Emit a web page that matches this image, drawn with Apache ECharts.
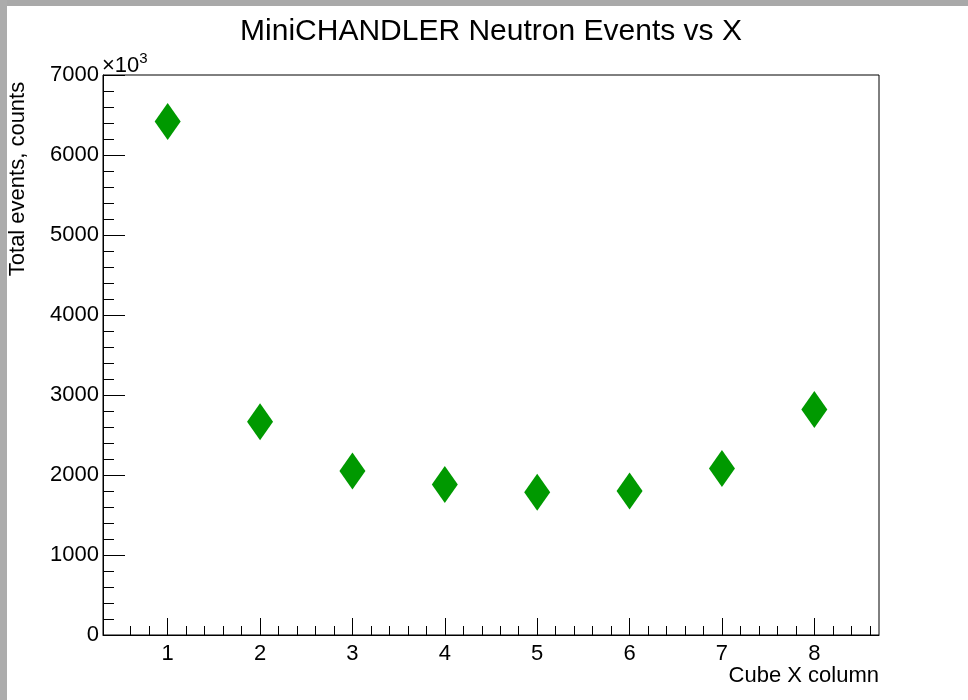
<!DOCTYPE html>
<html>
<head>
<meta charset="utf-8">
<title>MiniCHANDLER Neutron Events vs X</title>
<script src="https://cdn.jsdelivr.net/npm/echarts@6/dist/echarts.min.js"></script>
<style>
  html, body { margin: 0; padding: 0; background: #fff; }
  #chart { width: 968px; height: 700px; }
</style>
</head>
<body>
<div id="chart"></div>
<script>
// Cube X column index and total neutron events (in units of 10^3 counts)
const columns = [1, 2, 3, 4, 5, 6, 7, 8];
const eventsThousands = [6420, 2665, 2050, 1880, 1785, 1800, 2080, 2820];

// Axis tick labels
const xTickLabels = ['1', '2', '3', '4', '5', '6', '7', '8'];
const yTickLabels = ['0', '1000', '2000', '3000', '4000', '5000', '6000', '7000'];

const chartTitle = 'MiniCHANDLER Neutron Events vs X';
const xTitle = 'Cube X column';
const yTitle = 'Total events, counts';

const FONT = '"Liberation Sans", Arial, Helvetica, sans-serif';
const X_MIN = 0.3, X_MAX = 8.7;

const majorX = xTickLabels.map(Number);
// minor ticks every 0.2 between the integer columns
const minorX = [];
for (let k = Math.round(X_MIN * 5) + 1; k < Math.round(X_MAX * 5); k++) {
  if (k % 5 !== 0) minorX.push(+(k / 5).toFixed(2));
}

const chart = echarts.init(document.getElementById('chart'), null, { renderer: 'canvas' });

const gridBox = { left: 103, right: 89, top: 75, bottom: 65 };
const plotLeft = gridBox.left;
const plotRight = 968 - gridBox.right;
const plotTop = gridBox.top;
const plotBottom = 700 - gridBox.bottom;

chart.setOption({
  backgroundColor: '#ffffff',
  animation: false,
  grid: {
    left: gridBox.left, right: gridBox.right, top: gridBox.top, bottom: gridBox.bottom,
    show: true, borderColor: '#000', borderWidth: 1, backgroundColor: 'transparent'
  },
  xAxis: [
    {
      type: 'value', min: X_MIN, max: X_MAX,
      axisLine: { show: true, onZero: false, lineStyle: { color: '#000', width: 1 } },
      axisTick: { show: true, inside: true, length: 17, customValues: majorX, lineStyle: { color: '#000', width: 1 } },
      axisLabel: {
        show: true, customValues: majorX, margin: 8,
        color: '#000', fontFamily: FONT, fontSize: 22,
        formatter: v => xTickLabels[majorX.indexOf(Math.round(v))] || ''
      },
      splitLine: { show: false }
    },
    {
      type: 'value', min: X_MIN, max: X_MAX, position: 'bottom', offset: 0,
      axisLine: { show: false },
      axisTick: { show: true, inside: true, length: 9, customValues: minorX, lineStyle: { color: '#000', width: 1 } },
      axisLabel: { show: false },
      splitLine: { show: false }
    }
  ],
  yAxis: {
    type: 'value', min: 0, max: 7000, interval: 1000,
    axisLine: { show: true, onZero: false, lineStyle: { color: '#000', width: 1 } },
    axisTick: { show: true, inside: true, length: 22, lineStyle: { color: '#000', width: 1 } },
    minorTick: { show: true, splitNumber: 5, length: 11, lineStyle: { color: '#000', width: 1 } },
    axisLabel: {
      show: true, margin: 4, color: '#000', fontFamily: FONT, fontSize: 22,
      formatter: v => yTickLabels[Math.round(v / 1000)]
    },
    splitLine: { show: false }
  },
  series: [{
    type: 'scatter',
    xAxisIndex: 0,
    symbol: 'diamond',
    symbolSize: [26, 37],
    itemStyle: { color: '#009900', opacity: 1 },
    data: columns.map((c, i) => [c, eventsThousands[i]])
  }],
  graphic: [
    // grey window frame along the top and left edges
    { type: 'rect', shape: { x: 0, y: 0, width: 968, height: 6 }, style: { fill: '#a9a9a9' }, silent: true },
    { type: 'rect', shape: { x: 0, y: 0, width: 7, height: 700 }, style: { fill: '#acacac' }, silent: true },
    {
      type: 'text', x: (plotLeft + plotRight) / 2, y: 32,
      style: { text: chartTitle, fill: '#000', font: '30px ' + FONT,
               align: 'center', verticalAlign: 'middle', textAlign: 'center', textVerticalAlign: 'middle' }
    },
    {
      type: 'text', x: plotRight, y: 676,
      style: { text: xTitle, fill: '#000', font: '22px ' + FONT,
               align: 'right', verticalAlign: 'middle', textAlign: 'right', textVerticalAlign: 'middle' }
    },
    {
      type: 'text', x: 18, y: 179, rotation: Math.PI / 2,
      style: { text: yTitle, fill: '#000', font: '22px ' + FONT,
               align: 'center', verticalAlign: 'middle', textAlign: 'center', textVerticalAlign: 'middle' }
    },
    {
      type: 'text', x: plotLeft - 1, y: plotTop - 11,
      style: {
        text: '{m|×10}{e|3}', fill: '#000',
        align: 'left', verticalAlign: 'middle', textAlign: 'left', textVerticalAlign: 'middle',
        rich: {
          m: { fontFamily: FONT, fontSize: 22, fill: '#000', verticalAlign: 'bottom' },
          e: { fontFamily: FONT, fontSize: 15, fill: '#000', verticalAlign: 'top', padding: [0, 0, 10, 0] }
        }
      }
    }
  ]
});
</script>
</body>
</html>
